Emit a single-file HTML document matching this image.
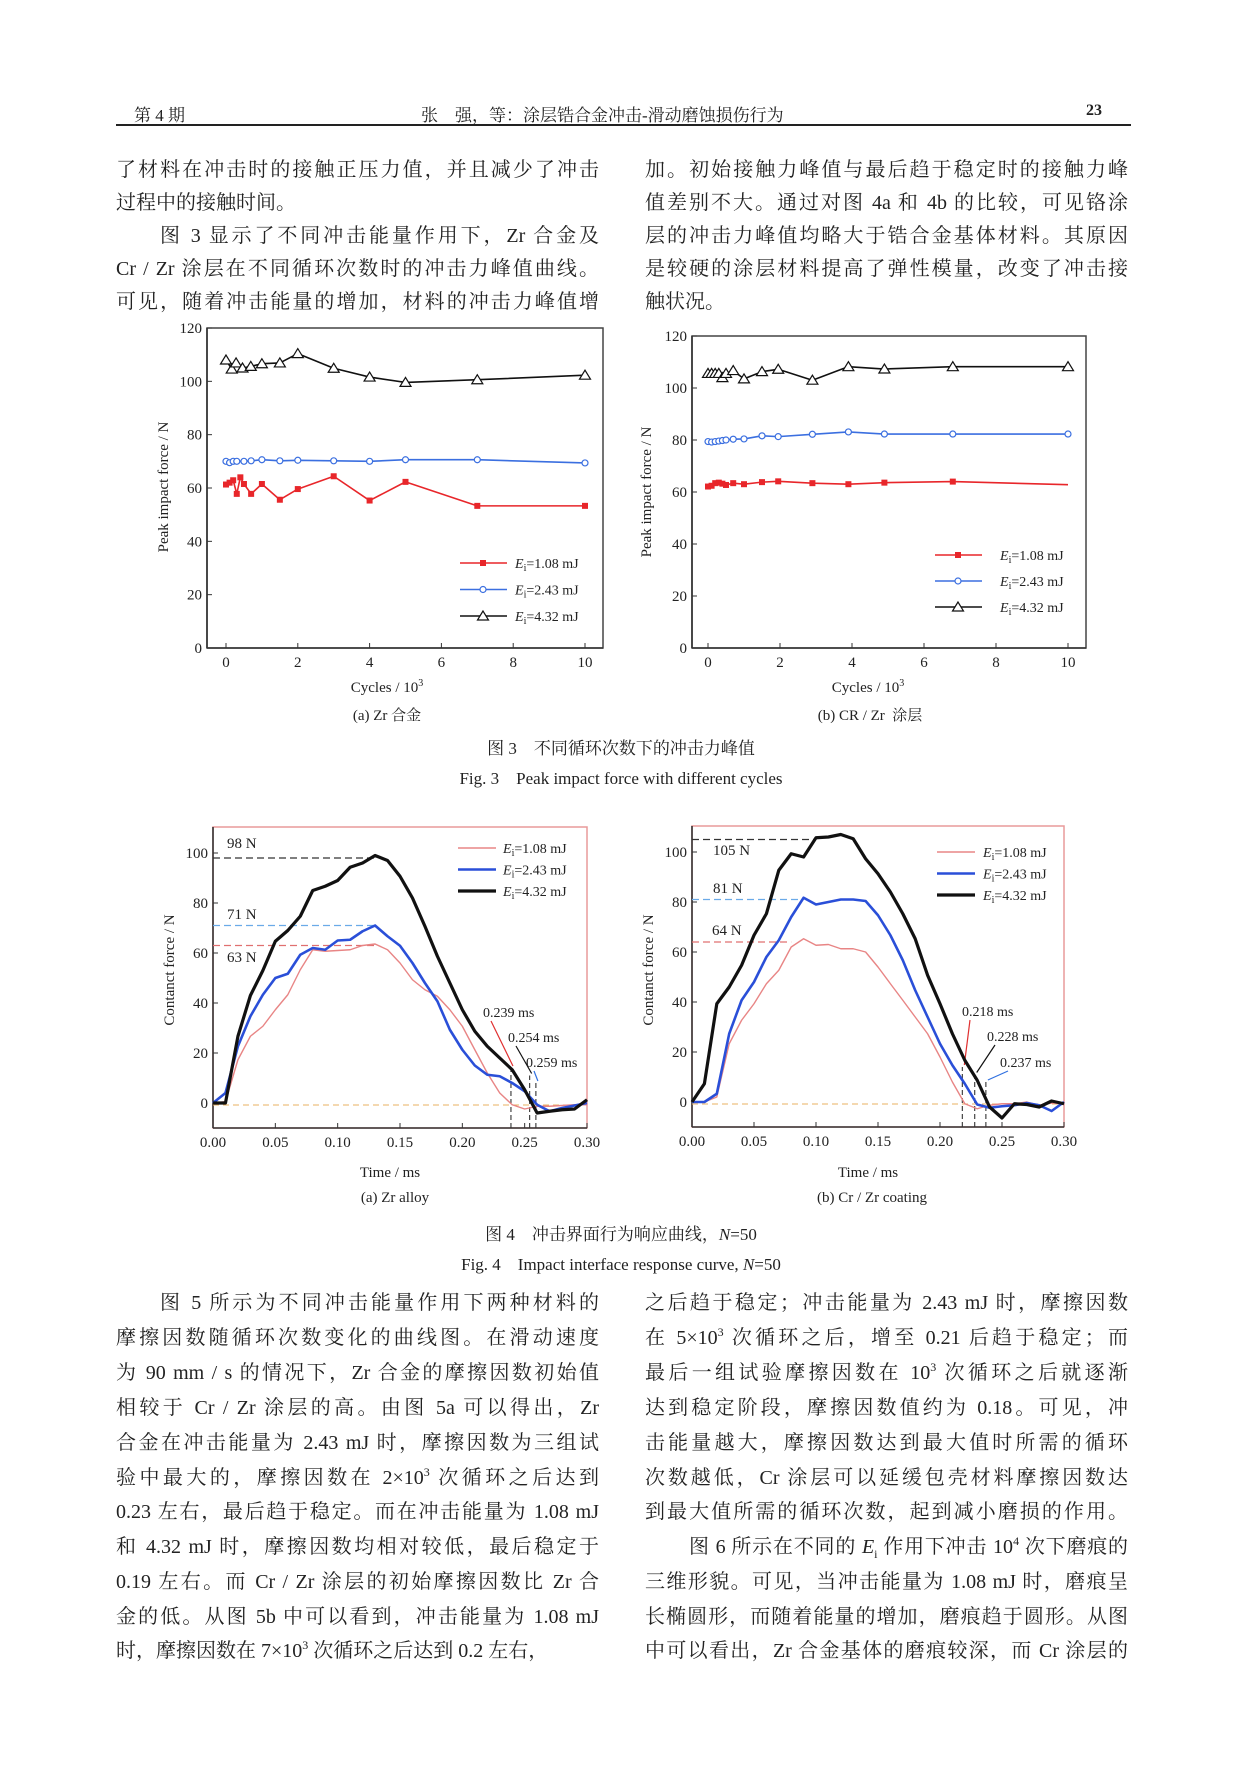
<!DOCTYPE html>
<html><head><meta charset="utf-8">
<style>
body{margin:0;background:#fff;}
#page{position:relative;width:1241px;height:1766px;overflow:hidden;background:#fff;font-family:"Liberation Serif","Noto Serif CJK SC",serif;color:#222;}
.ln{position:absolute;height:30px;line-height:30px;font-size:20px;white-space:nowrap;text-align:justify;text-align-last:justify;}
.ln.l{text-align-last:left;}
.ln sup{font-size:12px;line-height:0;vertical-align:8px;}
.cap{position:absolute;font-size:17px;white-space:nowrap;transform:translateX(-50%);}
svg text{font-family:"Liberation Serif","Noto Serif CJK SC",serif;fill:#222;}
</style></head><body>
<div id="page">
<div style="position:absolute;left:134px;top:101px;font-size:17px;">第 4 期</div>
<div style="position:absolute;left:421px;top:101px;font-size:17px;white-space:nowrap;">张　强，等：涂层锆合金冲击-滑动磨蚀损伤行为</div>
<div style="position:absolute;left:1086px;top:102px;font-size:16px;font-weight:bold;">23</div>
<div style="position:absolute;left:116px;top:124px;width:1015px;height:2px;background:#222;"></div>

<div>
<div class="ln" style="left:116px;width:483px;top:155px;">了材料在冲击时的接触正压力值，并且减少了冲击</div>
<div class="ln l" style="left:116px;width:483px;top:188px;">过程中的接触时间。</div>
<div class="ln" style="left:160px;width:439px;top:221px;">图 3 显示了不同冲击能量作用下，Zr 合金及</div>
<div class="ln" style="left:116px;width:483px;top:254px;">Cr / Zr 涂层在不同循环次数时的冲击力峰值曲线。</div>
<div class="ln" style="left:116px;width:483px;top:287px;">可见，随着冲击能量的增加，材料的冲击力峰值增</div>
</div>
<div>
<div class="ln" style="left:645px;width:483px;top:155px;">加。初始接触力峰值与最后趋于稳定时的接触力峰</div>
<div class="ln" style="left:645px;width:483px;top:188px;">值差别不大。通过对图 4a 和 4b 的比较，可见铬涂</div>
<div class="ln" style="left:645px;width:483px;top:221px;">层的冲击力峰值均略大于锆合金基体材料。其原因</div>
<div class="ln" style="left:645px;width:483px;top:254px;">是较硬的涂层材料提高了弹性模量，改变了冲击接</div>
<div class="ln l" style="left:645px;width:483px;top:287px;">触状况。</div>
</div>

<div class="cap" style="left:387px;top:704px;font-size:15px;">(a) Zr 合金</div>
<div class="cap" style="left:870px;top:704px;font-size:15px;">(b) CR / Zr&nbsp; 涂层</div>
<div class="cap" style="left:621px;top:734px;">图 3　不同循环次数下的冲击力峰值</div>
<div class="cap" style="left:621px;top:764px;">Fig. 3　Peak impact force with different cycles</div>
<div class="cap" style="left:395px;top:1190px;font-size:15px;">(a) Zr alloy</div>
<div class="cap" style="left:872px;top:1190px;font-size:15px;">(b) Cr / Zr coating</div>
<div class="cap" style="left:621px;top:1220px;">图 4　冲击界面行为响应曲线，<i>N</i>=50</div>
<div class="cap" style="left:621px;top:1250px;">Fig. 4　Impact interface response curve, <i>N</i>=50</div>

<div>
<div class="ln" style="left:160px;width:439px;top:1288px;">图 5 所示为不同冲击能量作用下两种材料的</div>
<div class="ln" style="left:116px;width:483px;top:1323px;">摩擦因数随循环次数变化的曲线图。在滑动速度</div>
<div class="ln" style="left:116px;width:483px;top:1358px;">为 90 mm / s 的情况下，Zr 合金的摩擦因数初始值</div>
<div class="ln" style="left:116px;width:483px;top:1393px;">相较于 Cr / Zr 涂层的高。由图 5a 可以得出，Zr</div>
<div class="ln" style="left:116px;width:483px;top:1428px;">合金在冲击能量为 2.43 mJ 时，摩擦因数为三组试</div>
<div class="ln" style="left:116px;width:483px;top:1463px;">验中最大的，摩擦因数在 2×10<sup>3</sup> 次循环之后达到</div>
<div class="ln" style="left:116px;width:483px;top:1497px;">0.23 左右，最后趋于稳定。而在冲击能量为 1.08 mJ</div>
<div class="ln" style="left:116px;width:483px;top:1532px;">和 4.32 mJ 时，摩擦因数均相对较低，最后稳定于</div>
<div class="ln" style="left:116px;width:483px;top:1567px;">0.19 左右。而 Cr / Zr 涂层的初始摩擦因数比 Zr 合</div>
<div class="ln" style="left:116px;width:483px;top:1602px;">金的低。从图 5b 中可以看到，冲击能量为 1.08 mJ</div>
<div class="ln l" style="left:116px;width:483px;top:1636px;">时，摩擦因数在 7×10<sup>3</sup> 次循环之后达到 0.2 左右，</div>
</div>
<div>
<div class="ln" style="left:645px;width:483px;top:1288px;">之后趋于稳定；冲击能量为 2.43 mJ 时，摩擦因数</div>
<div class="ln" style="left:645px;width:483px;top:1323px;">在 5×10<sup>3</sup> 次循环之后，增至 0.21 后趋于稳定；而</div>
<div class="ln" style="left:645px;width:483px;top:1358px;">最后一组试验摩擦因数在 10<sup>3</sup> 次循环之后就逐渐</div>
<div class="ln" style="left:645px;width:483px;top:1393px;">达到稳定阶段，摩擦因数值约为 0.18。可见，冲</div>
<div class="ln" style="left:645px;width:483px;top:1428px;">击能量越大，摩擦因数达到最大值时所需的循环</div>
<div class="ln" style="left:645px;width:483px;top:1463px;">次数越低，Cr 涂层可以延缓包壳材料摩擦因数达</div>
<div class="ln" style="left:645px;width:483px;top:1497px;">到最大值所需的循环次数，起到减小磨损的作用。</div>
<div class="ln" style="left:689px;width:439px;top:1532px;">图 6 所示在不同的 <i>E</i><sub style="font-size:12px">i</sub> 作用下冲击 10<sup>4</sup> 次下磨痕的</div>
<div class="ln" style="left:645px;width:483px;top:1567px;">三维形貌。可见，当冲击能量为 1.08 mJ 时，磨痕呈</div>
<div class="ln" style="left:645px;width:483px;top:1602px;">长椭圆形，而随着能量的增加，磨痕趋于圆形。从图</div>
<div class="ln" style="left:645px;width:483px;top:1636px;">中可以看出，Zr 合金基体的磨痕较深，而 Cr 涂层的</div>
</div>

<svg id="charts" width="1241" height="1766" style="position:absolute;left:0;top:0;"></svg>
</div>
<script>
// ---- Fig 3a data (Zr alloy) ----
const f3aRedX = [0,0.1,0.2,0.3,0.4,0.5,0.7,1,1.5,2,3,4,5,7,10];
const f3aRedY = [61.3,62,62.9,57.8,64,61.5,57.8,61.5,55.6,59.6,64.4,55.3,62.3,53.3,53.3];
const f3aBlueX = [0,0.1,0.2,0.3,0.5,0.7,1,1.5,2,3,4,5,7,10];
const f3aBlueY = [70,69.5,70,70,70,70.2,70.6,70.2,70.4,70.2,70,70.6,70.6,69.4];
const f3aBlackX = [0,0.16,0.28,0.46,0.69,1,1.5,2,3,4,5,7,10];
const f3aBlackY = [108,104.6,106.9,105,105.6,106.6,106.9,110.4,104.9,101.6,99.6,100.6,102.3];
// ---- Fig 3b data (Cr/Zr coating) ----
const f3bX = [0,0.1,0.2,0.3,0.4,0.5,0.7,1,1.5,1.95,2.9,3.9,4.9,6.8,10];
const f3bRedY = [62.1,62.4,63.4,63.6,63.2,62.7,63.4,63,63.8,64.1,63.4,63,63.6,64,62.8];
const f3bBlueY = [79.4,79.2,79.4,79.6,79.8,80,80.3,80.4,81.6,81.3,82.2,83.1,82.3,82.3,82.3];
const f3bBlackY = [105.6,105.6,105.6,105.6,104,105.6,106.7,103.5,106.3,107.2,103,108.2,107.3,108.2,108.2];
const f3xTicks = [0,2,4,6,8,10];
const f3yTicks = [0,20,40,60,80,100,120];
// ---- Fig 4 data (time 0..0.30 ms step 0.01) ----
const f4Time = [0,0.01,0.02,0.03,0.04,0.05,0.06,0.07,0.08,0.09,0.10,0.11,0.12,0.13,0.14,0.15,0.16,0.17,0.18,0.19,0.20,0.21,0.22,0.23,0.24,0.25,0.26,0.27,0.28,0.29,0.30];
const f4aRed = [0,0.5,17.3,26.7,30.7,37.3,43.3,53.3,61.3,60.7,61,61.3,63,63.6,61.3,56,49.3,45.3,42.7,37.3,30.7,21.3,12,4,-0.7,-2.4,-1.3,-1.3,-1,-0.7,-0.7];
const f4aBlue = [0,4,22.7,34.7,43.3,50,51.7,59.3,62,61.3,65,65.3,68.7,71,66.7,62.9,56,48,40.7,29.3,21.3,15,11.3,10.7,8,4.7,-0.7,-3.3,-2,-1,0];
const f4aBlack = [0,0,26.7,43,53,64.7,69,74.7,85,86.7,89,94.3,96,99,97,90.7,82,70.7,58.7,48,37.3,28.7,22.7,18,13.3,5.3,-4,-3.3,-2.7,-2.4,1.3];
const f4bRed = [0,0,2,23.3,32.7,39.3,47.3,52.7,62,65.3,62.7,63,61.3,61.3,60,54,47.3,40.7,34,27.3,18,8,-0.7,-2.7,-1.3,-0.7,-0.7,0,-1.3,-0.4,-0.7];
const f4bBlue = [0,0,3.3,27.3,40.7,48,58,64.7,74,81.7,79,80,81,81,80.4,74.7,66.7,56.7,44.7,34,23.3,14.7,7.3,-1,-2.3,-1.7,-1.3,-0.4,-1.3,-3.6,0];
const f4bBlack = [0,7.3,39.3,46,54.7,66.7,75.3,92.7,99.3,98,105.7,106,107,105.3,97.3,91.3,84,75.3,65.3,50.7,39.3,27.3,16.7,8.7,-2,-6.4,-0.7,-1,-2,0.4,-0.7];
const f4aPeaks = [63,71,98];
const f4bPeaks = [64,81,105];
const f4aEnds = [0.239,0.254,0.259];
const f4bEnds = [0.218,0.228,0.237];
const f4xTicks = [0,0.05,0.10,0.15,0.20,0.25,0.30];
const f4yTicks = [0,20,40,60,80,100];

const NS='http://www.w3.org/2000/svg';
const svg=document.getElementById('charts');
function mk(tag,attrs,parent){const e=document.createElementNS(NS,tag);for(const k in attrs)e.setAttribute(k,attrs[k]);(parent||svg).appendChild(e);return e;}
function txt(parent,x,y,s,size,anchor,extra){const t=mk('text',Object.assign({x:x,y:y,'font-size':size,'text-anchor':anchor||'start'},extra||{}),parent);t.innerHTML=s;return t;}

function axes(g,box,X,Y,xt,yt,fmtX,frameCol){
  mk('rect',{x:box[0],y:box[1],width:box[2]-box[0],height:box[3]-box[1],fill:'none',stroke:frameCol,'stroke-width':1.5},g);
  mk('line',{x1:box[0],y1:box[1],x2:box[0],y2:box[3],stroke:'#333','stroke-width':1.6},g);
  mk('line',{x1:box[0],y1:box[3],x2:box[2],y2:box[3],stroke:'#333','stroke-width':1.6},g);
  xt.forEach(v=>{const tk=mk('line',{x1:X(v),y1:box[3],x2:X(v),y2:box[3]-5,stroke:'#333'},g);
    
    
    const l=txt(g,X(v),box[3]+19,fmtX(v),15,'middle');
    
    });
  yt.forEach(v=>{const tk=mk('line',{x1:box[0],y1:Y(v),x2:box[0]+5,y2:Y(v),stroke:'#333'},g);
    
    
    const l=txt(g,box[0]-5,Y(v)+5,String(v),15,'end');
    
    });
}
function line(g,xs,ys,X,Y,col,w,name){
  const p=mk('polyline',{points:xs.map((x,i)=>X(x)+','+Y(ys[i])).join(' '),fill:'none',stroke:col,'stroke-width':w,'stroke-linejoin':'round'},g);
  
  
}
function marker(g,type,x,y){
  let m;
  if(type==='sq')m=mk('rect',{x:x-3,y:y-3,width:6,height:6,fill:'#e8262a'},g);
  else if(type==='ci')m=mk('circle',{cx:x,cy:y,r:3,fill:'#fff',stroke:'#3b6fe0','stroke-width':1.2},g);
  else m=mk('polygon',{points:(x)+','+(y-5)+' '+(x-5.5)+','+(y+4)+' '+(x+5.5)+','+(y+4),fill:'#fff',stroke:'#111','stroke-width':1.2},g);
  
  
}
function series3(g,xs,ys,X,Y,col,type,name,skipLast){
  line(g,xs,ys,X,Y,col,1.6,name);
  xs.forEach((x,i)=>{if(skipLast&&i===xs.length-1)return;marker(g,type,X(x),Y(ys[i]));});
}
function legend3(g,lx,ly,tx,gap){
  const items=[['#e8262a','sq','1.08'],['#3b6fe0','ci','2.43'],['#111','tr','4.32']];
  items.forEach((it,i)=>{const y=ly+i*gap;
    const e=mk('g',{},g);
    
    
    mk('line',{x1:lx,y1:y,x2:lx+47,y2:y,stroke:it[0],'stroke-width':1.6},e);
    marker(e,it[1],lx+23,y);
    txt(e,tx,y+5,'<tspan font-style="italic">E</tspan><tspan font-size="10" dy="3">i</tspan><tspan dy="-3">=</tspan>'+it[2]+' mJ',14);});
}

// ===== Fig 3a =====
(function(){
  const g=mk('g',{});
  const X=v=>226+v*35.9, Y=v=>648-v*320/120;
  axes(g,[207,328,603,648],X,Y,f3xTicks,f3yTicks,v=>String(v),'#444');
  series3(g,f3aRedX,f3aRedY,X,Y,'#e8262a','sq','series-1.08mJ');
  series3(g,f3aBlueX,f3aBlueY,X,Y,'#3b6fe0','ci','series-2.43mJ');
  series3(g,f3aBlackX,f3aBlackY,X,Y,'#111','tr','series-4.32mJ');
  legend3(g,460,563,515,26.5);
  const yt=txt(g,0,0,'Peak impact force / N',15,'middle',{transform:'translate(168,487) rotate(-90)'});
  
  
  const xt=txt(g,387,692,'Cycles / 10<tspan font-size="10" dy="-6">3</tspan>',15,'middle');
  
  
})();
// ===== Fig 3b =====
(function(){
  const g=mk('g',{});
  const X=v=>708+v*36, Y=v=>648-v*312/120;
  axes(g,[692,336,1086,648],X,Y,f3xTicks,f3yTicks,v=>String(v),'#444');
  series3(g,f3bX,f3bRedY,X,Y,'#e8262a','sq','series-1.08mJ',true);
  series3(g,f3bX,f3bBlueY,X,Y,'#3b6fe0','ci','series-2.43mJ');
  series3(g,f3bX,f3bBlackY,X,Y,'#111','tr','series-4.32mJ');
  legend3(g,935,555,1000,26);
  const yt=txt(g,0,0,'Peak impact force / N',15,'middle',{transform:'translate(651,492) rotate(-90)'});
  
  
  const xt=txt(g,868,692,'Cycles / 10<tspan font-size="10" dy="-6">3</tspan>',15,'middle');
  
  
})();

// ===== Fig 4 =====
function fig4(name,box,y0,series,peaks,peakTime,ends,labelPos,annPos,legPos,yTitleX,xTitleX){
  const g=mk('g',{});
  const X=t=>box[0]+t/0.3*(box[2]-box[0]), Y=v=>y0-v*2.5;
  axes(g,box,X,Y,f4xTicks,f4yTicks,v=>v.toFixed(2),'#e89a9a');
  const cols=['#e88585','#2a4fd8','#111'], ws=[1.4,2.6,3.2], dcols=['#e07070','#6aaae8','#333'];
  mk('line',{x1:box[0],y1:Y(-0.8),x2:box[2],y2:Y(-0.8),stroke:'#e8b060','stroke-width':1,'stroke-dasharray':'6,4'},g);
  peaks.forEach((p,i)=>{const d=mk('line',{x1:box[0],y1:Y(p),x2:X(peakTime[i]),y2:Y(p),stroke:dcols[i],'stroke-width':1.2,'stroke-dasharray':'7,4'},g);
    
    
    const l=txt(g,labelPos[i][0],labelPos[i][1],p+' N',15);
    
    });
  ends.forEach((e,i)=>{const d=mk('line',{x1:X(e),y1:box[3],x2:X(e),y2:Y(14-i*3),stroke:'#333','stroke-width':1.1,'stroke-dasharray':'5,3'},g);
    
    
    const l=txt(g,annPos[i][0],annPos[i][1],e.toFixed(3)+' ms',14);
    
    
    const ac=['#e03030','#111','#3070e0'];
    mk('line',{x1:annPos[i][0]+8,y1:annPos[i][1]+4,x2:X(e)+2,y2:Y(14-i*3)-2,stroke:ac[i],'stroke-width':1.2},g);});
  series.forEach((s,i)=>line(g,f4Time,s,X,Y,cols[i],ws[i],'series-'+['1.08','2.43','4.32'][i]+'mJ'));
  ['1.08','2.43','4.32'].forEach((v,i)=>{const e=mk('g',{},g);
    
    
    const y=legPos[1]+i*21.5;
    mk('line',{x1:legPos[0],y1:y,x2:legPos[0]+38,y2:y,stroke:cols[i],'stroke-width':ws[i]},e);
    txt(e,legPos[2],y+5,'<tspan font-style="italic">E</tspan><tspan font-size="10" dy="3">i</tspan><tspan dy="-3">=</tspan>'+v+' mJ',14);});
  const yt=txt(g,0,0,'Contanct force / N',15,'middle',{transform:'translate('+yTitleX+',970) rotate(-90)'});
  
  
  const xt=txt(g,xTitleX,1177,'Time / ms',15,'middle');
  
  
}
fig4('fig4a-chart',[213,827,587,1128],1103,[f4aRed,f4aBlue,f4aBlack],f4aPeaks,[0.13,0.13,0.13],f4aEnds,
  [[227,962],[227,919],[227,848]],[[483,1017],[508,1042],[526,1067]],[458,848,503],174,390);
fig4('fig4b-chart',[692,826,1064,1127],1102,[f4bRed,f4bBlue,f4bBlack],f4bPeaks,[0.08,0.09,0.10],f4bEnds,
  [[712,935],[713,893],[713,855]],[[962,1016],[987,1041],[1000,1067]],[937,852,983],653,868);
</script>
</body></html>
